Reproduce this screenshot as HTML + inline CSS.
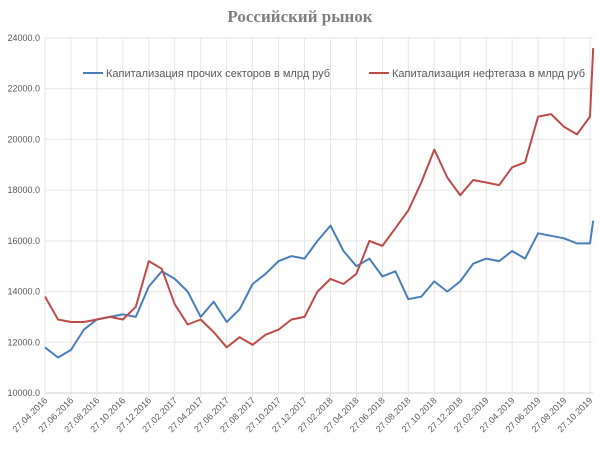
<!DOCTYPE html>
<html><head><meta charset="utf-8"><style>
body{margin:0;background:#fff;}
svg text{font-family:"Liberation Sans","DejaVu Sans",sans-serif;}
</style></head><body>
<svg id="chart" width="600" height="451" xmlns="http://www.w3.org/2000/svg">
<text x="300" y="22" text-anchor="middle" font-family="Liberation Serif,serif" font-weight="bold" font-size="17" fill="#7f7f7f" style="font-family:'Liberation Serif',serif">Российский рынок</text>
<g id="grid"></g><g id="axes"></g><g id="series"></g>
<g>
<line x1="83" y1="73" x2="103" y2="73" stroke="#4a7ebb" stroke-width="2"/>
<text x="106" y="77" font-size="11" fill="#595959">Капитализация прочих секторов в млрд руб</text>
<line x1="369" y1="73" x2="389" y2="73" stroke="#be4b48" stroke-width="2"/>
<text x="392" y="77" font-size="11" fill="#595959">Капитализация нефтегаза в млрд руб</text>
</g>
</svg>
<script>
const tickLabels=["27.04.2016","27.06.2016","27.08.2016","27.10.2016","27.12.2016","27.02.2017","27.04.2017","27.06.2017","27.08.2017","27.10.2017","27.12.2017","27.02.2018","27.04.2018","27.06.2018","27.08.2018","27.10.2018","27.12.2018","27.02.2019","27.04.2019","27.06.2019","27.08.2019","27.10.2019"];
const yTicks=[10000,12000,14000,16000,18000,20000,22000,24000];
const months=[0,1,2,3,4,5,6,7,8,9,10,11,12,13,14,15,16,17,18,19,20,21,22,23,24,25,26,27,28,29,30,31,32,33,34,35,36,37,38,39,40,41,42,42.25];
const otherSectors=[11800,11400,11700,12500,12900,13000,13100,13000,14200,14800,14500,14000,13000,13600,12800,13300,14300,14700,15200,15400,15300,16000,16600,15600,15000,15300,14600,14800,13700,13800,14400,14000,14400,15100,15300,15200,15600,15300,16300,16200,16100,15900,15900,16800];
const oilGas=[13800,12900,12800,12800,12900,13000,12900,13400,15200,14900,13500,12700,12900,12400,11800,12200,11900,12300,12500,12900,13000,14000,14500,14300,14700,16000,15800,16500,17200,18300,19600,18500,17800,18400,18300,18200,18900,19100,20900,21000,20500,20200,20900,23600];
const NS="http://www.w3.org/2000/svg";
const X0=45,X1=590,Y0=393,Y1=38;
const xScale=m=>X0+m*(X1-X0)/42;
const yScale=v=>Y0-(v-10000)*(Y0-Y1)/14000;
function mk(tag,attrs,parent){const e=document.createElementNS(NS,tag);for(const k in attrs)e.setAttribute(k,attrs[k]);parent.appendChild(e);return e;}
const grid=document.getElementById('grid'),axes=document.getElementById('axes'),series=document.getElementById('series');
yTicks.forEach(v=>{
 const y=yScale(v);
 const l=mk('line',{x1:X0,x2:593,y1:y,y2:y,stroke:v===10000?'#d0d0d0':'#e6e6e6','stroke-width':1},grid);
 
 
 const t=mk('text',{x:40,y:y+3,'text-anchor':'end','font-size':9,fill:'#595959'},axes);
 t.textContent=v.toFixed(1);
 
 
});
tickLabels.forEach((s,i)=>{
 const x=xScale(i*2);
 const l=mk('line',{x1:x,x2:x,y1:Y1,y2:Y0+4,stroke:'#e6e6e6','stroke-width':1},grid);
 
 
 const t=mk('text',{x:x+3,y:Y0+8,'text-anchor':'end','font-size':9,fill:'#595959',transform:`rotate(-45 ${x+3} ${Y0+8})`},axes);
 t.textContent=s;
 
 
});
function draw(vals,color,name){
 const d=vals.map((v,i)=>(i?'L':'M')+xScale(months[i]).toFixed(1)+','+yScale(v).toFixed(1)).join('');
 const p=mk('path',{d:d,fill:'none',stroke:color,'stroke-width':2,'stroke-linejoin':'round'},series);
 
 
}
draw(otherSectors,'#4a7ebb','line-other-sectors');
draw(oilGas,'#be4b48','line-oil-gas');
</script>
</body></html>
